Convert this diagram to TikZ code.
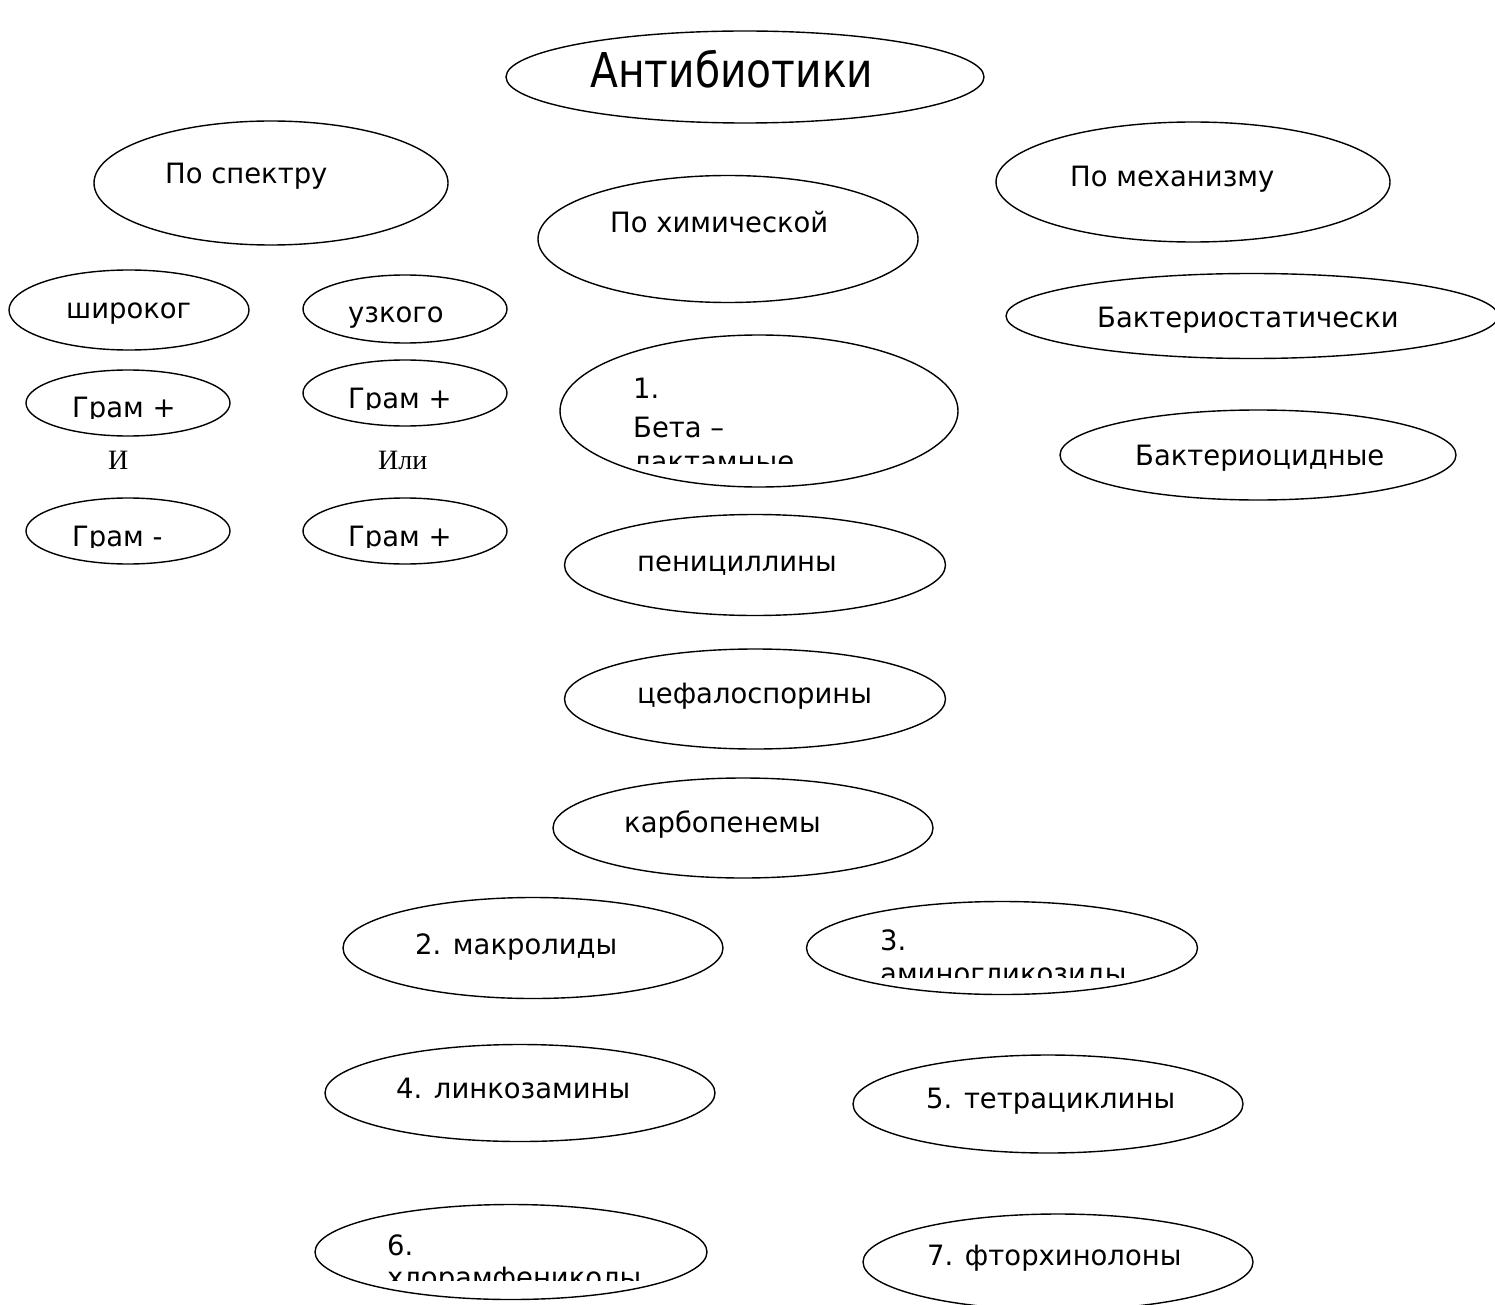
\documentclass[tikz,border=0pt]{standalone}
\usepackage{fontspec}
\setmainfont{DejaVu Sans}[FakeStretch=0.98]
\newfontfamily\titlefont{DejaVu Sans}[FakeStretch=0.85]
\newfontfamily\serifrm{Liberation Serif}
\usetikzlibrary{shapes.geometric}

\begin{document}
\begin{tikzpicture}[x=1pt, y=-1pt,
        oval/.style 2 args={ellipse, draw, line width=1.4pt, minimum width=#1, minimum height=#2, inner sep=0pt},
        lbl/.style={anchor=base west, inner sep=0pt, font=\fontsize{28}{34}\selectfont},
        title/.style={lbl, font=\titlefont\fontsize{48}{58}\selectfont},
        conj/.style={anchor=base west, inner sep=0pt, font=\serifrm\fontsize{28}{34}\selectfont}
    ]
    \useasboundingbox (0,0) rectangle (1495,1305);

    % TOP
    \node[oval={478}{92}] (anti) at (745,77) {};
    \node[title] (anti-t) at (590,88) {Антибиотики};

    \node[oval={354}{124}] (spec) at (271,183) {};
    \node[lbl] (spec-t) at (165,184) {По спектру};
    \node[oval={380}{127}] (chem) at (728,239) {};
    \node[lbl] (chem-t) at (610,233) {По химической};
    \node[oval={394}{120}] (mech) at (1193,182) {};
    \node[lbl] (mech-t) at (1070,187) {По механизму};

    % LEFT: spectrum
    \node[oval={240}{80}] (wide) at (129,310) {};
    \node[lbl] (wide-t) at (66,318) {широког};
    \node[oval={204}{68}] (narrow) at (405,309) {};
    \node[lbl] (narrow-t) at (348,323) {узкого};

    \node[oval={204}{66}] (wpos) at (128,403) {};
    \node[oval={204}{66}] (npos) at (405,393) {};
    \node[oval={204}{66}] (wneg) at (128,531) {};
    \node[oval={204}{66}] (npos2) at (405,531) {};
    \begin{scope}
        \clip (20,370) rectangle (235,418);
        \node[lbl] (wpos-t) at (72,417) {Грам +};
    \end{scope}
    \begin{scope}
        \clip (300,361) rectangle (510,409);
        \node[lbl] (npos-t) at (348,408) {Грам +};
    \end{scope}
    \begin{scope}
        \clip (20,498) rectangle (235,547);
        \node[lbl] (wneg-t) at (72,546) {Грам -};
    \end{scope}
    \begin{scope}
        \clip (300,498) rectangle (510,547);
        \node[lbl] (npos2-t) at (348,546) {Грам +};
    \end{scope}
    \node[conj] (and) at (108,469) {И};
    \node[conj] (or) at (378,469) {Или};

    % MIDDLE: chemical structure
    \node[oval={398}{152}] (beta) at (759,411) {};
    \begin{scope}
        \clip (560,335) rectangle (960,463);
        \node[lbl] (beta-1) at (633,398) {1.};
        \node[lbl] (beta-2) at (633,437) {Бета –};
        \node[lbl] (beta-3) at (633,471) {лактамные};
    \end{scope}
    \node[oval={381}{101}] (pen) at (755,565) {};
    \node[lbl] (pen-t) at (637,571) {пенициллины};
    \node[oval={381}{100}] (ceph) at (755,699) {};
    \node[lbl] (ceph-t) at (637,703) {цефалоспорины};
    \node[oval={380}{100}] (carb) at (743,828) {};
    \node[lbl] (carb-t) at (624,832) {карбопенемы};

    \node[oval={380}{101}] (macro) at (533,948) {};
    \node[lbl] (macro-t) at (415,954) {2. макролиды};
    \node[oval={391}{93}] (amino) at (1002,948) {};
    \begin{scope}
        \clip (805,902) rectangle (1200,977);
        \node[lbl] (amino-1) at (880,950) {3.};
        \node[lbl] (amino-2) at (880,983) {аминогликозиды};
    \end{scope}
    \node[oval={390}{97}] (linc) at (520,1093) {};
    \node[lbl] (linc-t) at (396,1098) {4. линкозамины};
    \node[oval={390}{98}] (tetra) at (1048,1104) {};
    \node[lbl] (tetra-t) at (926,1108) {5. тетрациклины};
    \node[oval={392}{95}] (chlor) at (511,1252) {};
    \begin{scope}
        \clip (310,1205) rectangle (710,1280);
        \node[lbl] (chlor-1) at (387,1255) {6.};
        \node[lbl] (chlor-2) at (387,1287) {хлорамфениколы};
    \end{scope}
    \node[oval={390}{96}] (fluor) at (1058,1262) {};
    \node[lbl] (fluor-t) at (927,1265) {7. фторхинолоны};

    % RIGHT: mechanism
    \node[oval={492}{85}] (stat) at (1252,316) {};
    \node[lbl] (stat-t) at (1097,327) {Бактериостатически};
    \node[oval={396}{90}] (cid) at (1258,455) {};
    \node[lbl] (cid-t) at (1135,465) {Бактериоцидные};

\end{tikzpicture}
\end{document}
